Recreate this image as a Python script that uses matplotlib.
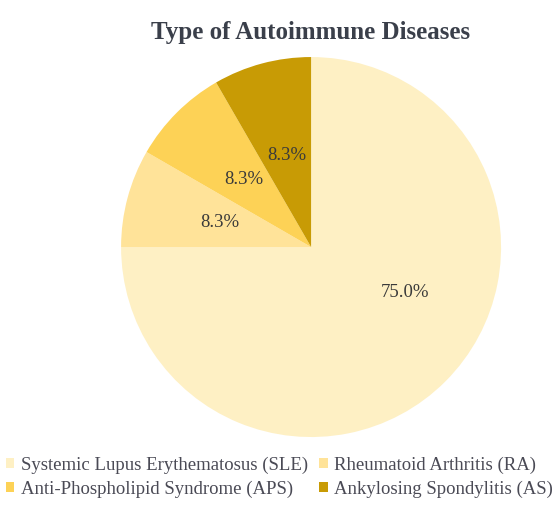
import matplotlib
matplotlib.use('Agg')
import matplotlib.pyplot as plt
import numpy as np

plt.rcParams['font.family'] = ['Liberation Serif', 'DejaVu Serif']

labels = ['Systemic Lupus Erythematosus (SLE)', 'Rheumatoid Arthritis (RA)',
          'Anti-Phospholipid Syndrome (APS)', 'Ankylosing Spondylitis (AS)']
counts = [9, 1, 1, 1]
colors = ['#FEF0C4', '#FFE399', '#FDD256', '#C89B05']

fig = plt.figure(figsize=(5.59, 5.07), dpi=100)
ax = fig.add_axes([0.2165, 0.138, 0.68, 0.7495])
wedges, texts, autotexts = ax.pie(counts, colors=colors, startangle=90, counterclock=False,
                                  autopct='%1.1f%%', pctdistance=0.5,
                                  textprops={'fontsize': 13.5, 'color': '#3a3a3a'})
ax.set_xlim(-1, 1)
ax.set_ylim(-1, 1)
ax.set_aspect('equal')

# big slice label sits off-centre, nearer the right side
ang = np.deg2rad(-25.6)
autotexts[0].set_position((0.55 * np.cos(ang), 0.55 * np.sin(ang)))

fig.text(0.555, 0.935, 'Type of Autoimmune Diseases', ha='center', va='center',
         fontsize=18, fontweight='bold', color='#3a3f4a')

# legend filled row by row
order = [0, 2, 1, 3]
fig.legend([wedges[i] for i in order], [labels[i] for i in order],
           loc='lower center', bbox_to_anchor=(0.5, -0.015), ncol=2,
           frameon=False, fontsize=13.5, handlelength=0.45, handleheight=0.45,
           handletextpad=0.35, columnspacing=0.6, labelspacing=0.35,
           labelcolor='#4a4a55')

fig.savefig('out.png', dpi=100)
